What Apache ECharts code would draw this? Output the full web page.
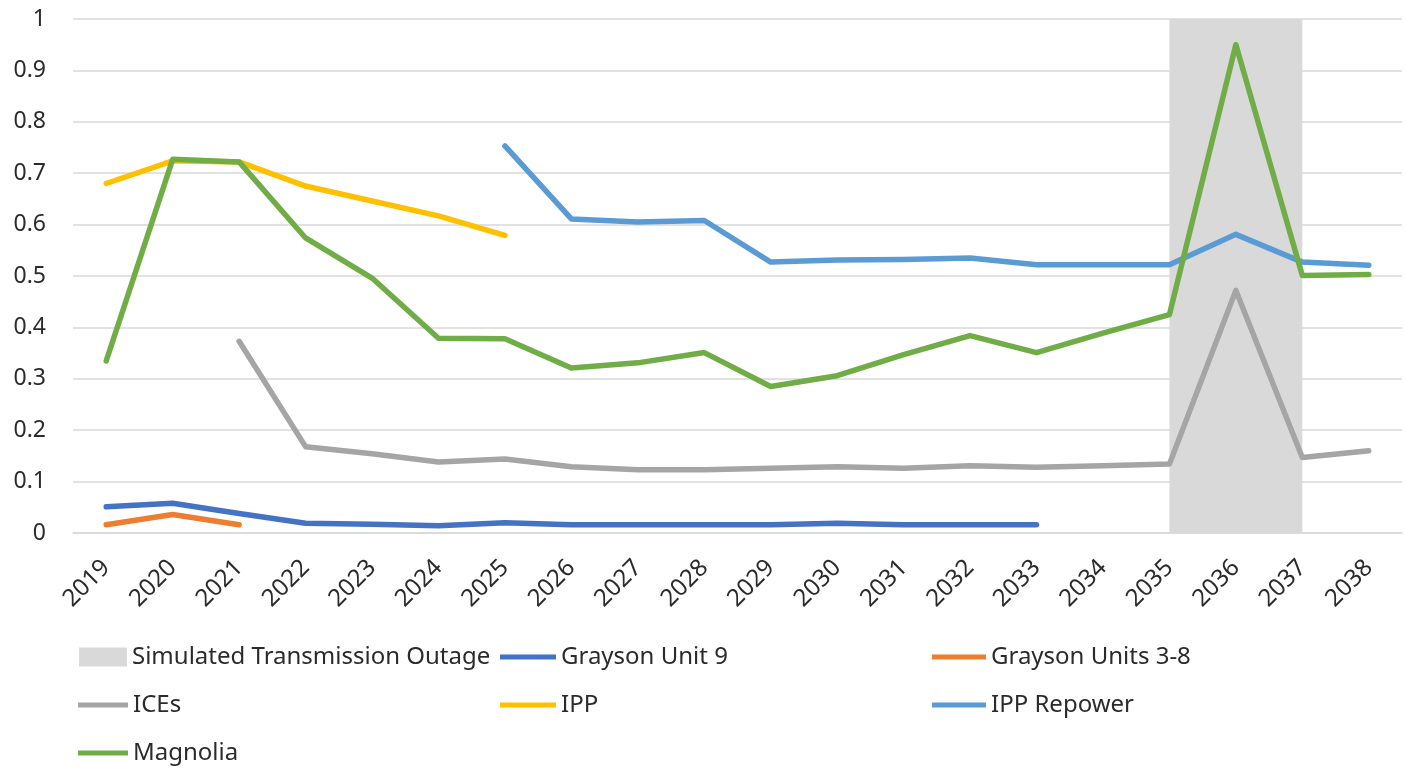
<!DOCTYPE html>
<html>
<head>
<meta charset="utf-8">
<script src="https://cdn.jsdelivr.net/npm/echarts@6/dist/echarts.min.js"></script>
<style>
  html, body { margin: 0; padding: 0; background: #fff; }
  #myChart { width: 1406px; height: 769px; }
</style>
</head>
<body>
<div id="myChart"></div>
<script>
// years on the x axis
var years = ['2019','2020','2021','2022','2023','2024','2025','2026','2027','2028',
             '2029','2030','2031','2032','2033','2034','2035','2036','2037','2038'];

// shaded outage band (2035-2037)
var outage = [null,null,null,null,null,null,null,null,null,null,
              null,null,null,null,null,null,1,1,1,null];

var graysonUnit9 = [0.051,0.058,0.038,0.019,0.017,0.014,0.020,0.016,0.016,0.016,
                    0.016,0.019,0.016,0.016,0.016,null,null,null,null,null];

var graysonUnits38 = [0.016,0.036,0.016,null,null,null,null,null,null,null,
                      null,null,null,null,null,null,null,null,null,null];

var ices = [null,null,0.373,0.168,0.154,0.138,0.144,0.129,0.123,0.123,
            0.126,0.129,0.126,0.131,0.128,0.131,0.134,0.472,0.147,0.160];

var ipp = [0.680,0.724,0.722,0.675,0.646,0.617,0.579,null,null,null,
           null,null,null,null,null,null,null,null,null,null];

var ippRepower = [null,null,null,null,null,null,0.753,0.611,0.605,0.608,
                  0.527,0.531,0.532,0.535,0.522,0.522,0.522,0.581,0.527,0.521];

var magnolia = [0.335,0.727,0.722,0.574,0.496,0.379,0.378,0.321,0.331,0.351,
                0.285,0.306,0.347,0.384,0.351,0.389,0.425,0.950,0.501,0.503];

var chart = echarts.init(document.getElementById('myChart'));

var txt = { color: '#2b2b2b', fontSize: 24, fontFamily: 'Noto Sans', lineHeight: 24 };

function lineSeries(name, data, color) {
  return {
    name: name,
    type: 'line',
    data: data,
    symbol: 'none',
    itemStyle: { color: color },
    lineStyle: { color: color, width: 5.5, cap: 'round', join: 'round' },
    animation: false
  };
}

chart.setOption({
  backgroundColor: '#fff',
  grid: {
    left: 73,
    right: 4,
    top: 19,
    bottom: 236,
    containLabel: false,
    outerBoundsMode: 'none'
  },
  legend: [
    {
      data: ['Simulated Transmission Outage'],
      left: 79, top: 645, padding: 0,
      icon: 'rect', itemWidth: 48, itemHeight: 19,
      textStyle: txt
    },
    {
      data: ['ICEs', 'Magnolia'],
      orient: 'vertical',
      left: 78, top: 693, height: 76, padding: 0,
      icon: 'rect', itemWidth: 50, itemHeight: 5, itemGap: 24,
      textStyle: txt
    },
    {
      data: ['Grayson Unit 9', 'IPP'],
      orient: 'vertical',
      left: 500, top: 645, padding: 0,
      icon: 'rect', itemWidth: 56, itemHeight: 5, itemGap: 24,
      textStyle: txt
    },
    {
      data: ['Grayson Units 3-8', 'IPP Repower'],
      orient: 'vertical',
      left: 932, top: 645, padding: 0,
      icon: 'rect', itemWidth: 54, itemHeight: 5, itemGap: 24,
      textStyle: txt
    }
  ],
  xAxis: {
    type: 'category',
    data: years,
    boundaryGap: true,
    axisLine: { show: true, lineStyle: { color: '#D9D9D9', width: 1.5 } },
    axisTick: { show: false },
    axisLabel: {
      rotate: 45,
      margin: 31,
      color: '#2b2b2b',
      fontSize: 24,
      fontFamily: 'Noto Sans',
      interval: 0
    }
  },
  yAxis: {
    type: 'value',
    min: 0,
    max: 1,
    interval: 0.1,
    axisLine: { show: false },
    axisTick: { show: false },
    splitLine: { lineStyle: { color: '#D9D9D9', width: 1.5 } },
    axisLabel: {
      margin: 27,
      color: '#2b2b2b',
      fontSize: 23,
      fontFamily: 'Noto Sans',
      formatter: function (v) { return String(Math.round(v * 10) / 10); }
    }
  },
  series: [
    {
      name: 'Simulated Transmission Outage',
      type: 'line',
      data: outage,
      symbol: 'none',
      z: 1,
      itemStyle: { color: '#D9D9D9' },
      lineStyle: { width: 0 },
      areaStyle: { color: '#D9D9D9', opacity: 1 },
      animation: false
    },
    lineSeries('Grayson Unit 9', graysonUnit9, '#4472C4'),
    lineSeries('Grayson Units 3-8', graysonUnits38, '#ED7D31'),
    lineSeries('ICEs', ices, '#A5A5A5'),
    lineSeries('IPP', ipp, '#FFC000'),
    lineSeries('IPP Repower', ippRepower, '#5B9BD5'),
    lineSeries('Magnolia', magnolia, '#70AD47')
  ]
});
</script>
</body>
</html>
